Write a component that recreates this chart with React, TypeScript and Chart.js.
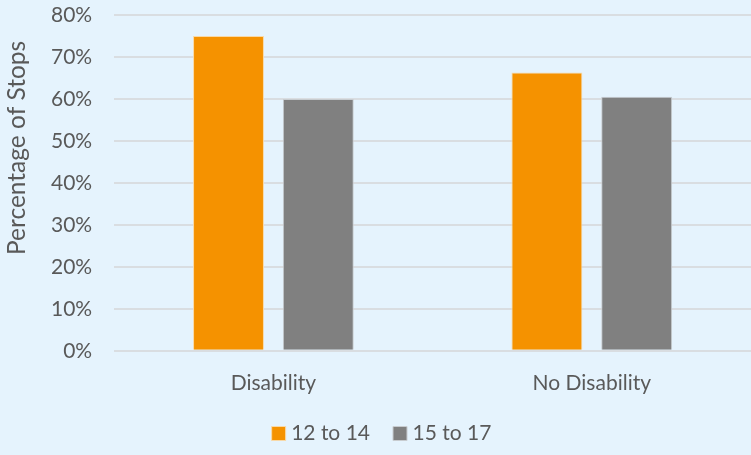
import React, { useEffect, useRef } from "react";
import { Chart, registerables } from "chart.js";

Chart.register(...registerables);

const categories = ["Disability", "No Disability"];
const seriesNames = ["12 to 14", "15 to 17"];
const age12to14 = [75, 66.3];
const age15to17 = [60, 60.5];
const yTicks = [0, 10, 20, 30, 40, 50, 60, 70, 80];
const yTitle = "Percentage of Stops";

const FONT = "Lato, 'Open Sans', sans-serif";
const TEXT = "#595959";

const yTitlePlugin = {
  id: "yTitlePlugin",
  afterDraw(chart: any) {
    const { ctx, chartArea } = chart;
    ctx.save();
    ctx.translate(17, (chartArea.top + chartArea.bottom) / 2 - 35);
    ctx.rotate(-Math.PI / 2);
    ctx.fillStyle = TEXT;
    ctx.font = `24.5px ${FONT}`;
    ctx.textAlign = "center";
    ctx.textBaseline = "middle";
    ctx.fillText(yTitle, 0, 0);
    ctx.restore();
  },
};

export default function App() {
  const ref = useRef<HTMLCanvasElement | null>(null);
  useEffect(() => {
    document.body.style.margin = "0";
    const ctx = ref.current!;
    const chart = new Chart(ctx, {
      type: "bar",
      data: {
        labels: categories,
        datasets: [
          {
            label: seriesNames[0],
            data: age12to14,
            backgroundColor: "#F59200",
            borderColor: "#F8D9A8",
            borderWidth: 1,
            categoryPercentage: 0.564,
            barPercentage: 0.79,
          },
          {
            label: seriesNames[1],
            data: age15to17,
            backgroundColor: "#808080",
            borderColor: "#C8CCD0",
            borderWidth: 1,
            categoryPercentage: 0.564,
            barPercentage: 0.79,
          },
        ],
      },
      plugins: [yTitlePlugin],
      options: {
        animation: false,
        responsive: false,
        maintainAspectRatio: false,
        layout: { padding: { top: 0, right: 0, bottom: 1, left: 17 } },
        plugins: {
          tooltip: { enabled: false },
          legend: {
            position: "bottom",
            labels: {
              color: TEXT,
              font: { family: FONT, size: 21 },
              usePointStyle: true,
              pointStyle: "rect",
              boxWidth: 4,
              boxHeight: 14,
              padding: 28,
            },
          },
        },
        scales: {
          x: {
            grid: { display: false, drawTicks: false },
            border: { display: false },
            afterFit: (scale: any) => {
              scale.height = scale.height - 21;
            },
            ticks: {
              color: TEXT,
              font: { family: FONT, size: 21 },
              padding: 20,
            },
          },
          y: {
            min: 0,
            max: 80,
            afterBuildTicks: (axis: any) => {
              axis.ticks = yTicks.map((v) => ({ value: v }));
            },
            afterFit: (scale: any) => {
              scale.paddingTop = 15;
              scale.width = scale.width + 12;
            },
            grid: { color: "#D9DDE1", lineWidth: 2, drawTicks: false },
            border: { display: false },
            ticks: {
              color: TEXT,
              font: { family: FONT, size: 21 },
              padding: 22,
              callback: (v: any) => v + "%",
            },
            title: { display: false },
          },
        },
      },
    });
    return () => chart.destroy();
  }, []);
  return (
    <div style={{ width: 751, height: 455, background: "#E5F3FD" }}>
      <canvas ref={ref} width={751} height={455} style={{ display: "block" }} />
    </div>
  );
}
